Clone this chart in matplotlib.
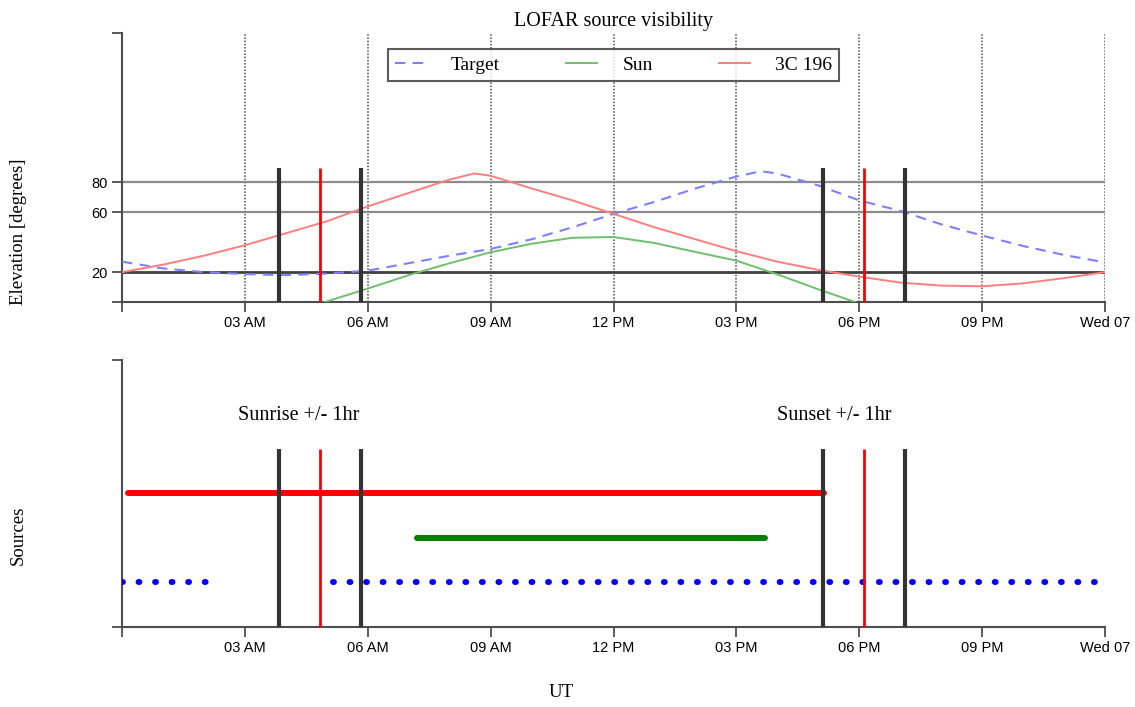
import matplotlib
matplotlib.use('Agg')
import matplotlib.pyplot as plt

# ---------------- data (hours UT from Tue 06 00:00) ----------------
tick_hours = [0, 3, 6, 9, 12, 15, 18, 21, 24]
tick_labels = ['', '03 AM', '06 AM', '09 AM', '12 PM', '03 PM', '06 PM', '09 PM', 'Wed 07']

target_t = [0, 1, 2, 3, 4, 5, 6, 7, 8, 9, 10, 11, 12, 13, 14, 15, 15.6, 16, 17, 18, 19, 20, 21, 22, 23, 24]
target_el = [27, 22.5, 20, 18.7, 18, 19, 21, 26, 31, 35.5, 42, 50, 59, 67, 76, 84, 87.5, 86, 78, 68, 61, 52, 44.5, 37.5, 31.5, 26.5]

src_t = [0, 1, 2, 3, 4, 5, 6, 7, 8, 8.6, 9, 10, 11, 12, 13, 14, 15, 16, 17, 18, 19, 20, 21, 22, 23, 24]
src_el = [20, 25, 31, 38, 46, 54, 64, 73, 82, 86, 84.5, 76, 68, 59, 50, 42, 34, 27, 21.5, 17, 13, 11, 10.5, 12.5, 16, 20]

sun_t = [4.95, 6, 7, 8, 9, 10, 11, 12, 13, 14, 15, 16, 17, 17.9]
sun_el = [0, 9, 18, 26, 33.3, 39, 43, 43.5, 39.5, 33.5, 27.7, 18.5, 8.5, 0]

sunrise = 4.83
sunset = 18.12
margin = 1.0

elev_levels = [20, 60, 80]

# visibility windows (start, end) in hours
target_vis = [(0.0, 2.15), (5.15, 24.0)]
sun_vis = [(7.2, 15.7)]
src_vis = [(0.15, 17.15)]
rows = {'Target': 1, 'Sun': 2, '3C 196': 3}

# ---------------- styling ----------------
serif = ['Liberation Serif', 'DejaVu Serif']
sans = ['Liberation Sans', 'DejaVu Sans']
spine_c = '0.3'

fig = plt.figure(figsize=(11.35, 7.07), dpi=100)
ax1 = fig.add_axes([0.1075, 0.5728, 0.8661, 0.3805])
ax2 = fig.add_axes([0.1075, 0.1132, 0.8661, 0.3776])


def style_axes(ax, ymax, yticks, ylabels):
    ax.set_xlim(0, 24)
    ax.set_ylim(0, ymax)
    for s in ['top', 'right']:
        ax.spines[s].set_visible(False)
    for s in ['left', 'bottom']:
        ax.spines[s].set_color(spine_c)
        ax.spines[s].set_linewidth(1.5)
    ax.set_xticks(tick_hours)
    ax.set_xticklabels(tick_labels, family=sans, fontsize=10.5)
    ax.set_yticks(yticks)
    ax.set_yticklabels(ylabels, family=sans, fontsize=10.5)
    ax.tick_params(axis='both', direction='out', length=7, width=1.3,
                   color=spine_c, pad=3)


# ---------------- top panel ----------------
style_axes(ax1, 180, [0] + elev_levels + [180], [''] + [str(v) for v in elev_levels] + [''])

for h in tick_hours[1:]:
    ax1.axvline(h, color='0.3', lw=1.1, ls=(0, (1, 1.1)), zorder=1)
for lev in elev_levels:
    if lev == 20:
        ax1.axhline(lev, color='0.25', lw=2.0, zorder=1)
    else:
        ax1.axhline(lev, color='0.55', lw=1.6, zorder=1)

ax1.plot(target_t, target_el, color='#7f7fff', lw=1.5, ls=(0, (5, 3.5)), label='Target', zorder=3)
ax1.plot(sun_t, sun_el, color='#6fbf6f', lw=1.4, label='Sun', zorder=3)
ax1.plot(src_t, src_el, color='#ff7f7f', lw=1.4, label='3C 196', zorder=3)

for ev in (sunrise, sunset):
    ax1.vlines([ev - margin, ev + margin], 0, 90, color='0.2', lw=3, zorder=4)
    ax1.vlines([ev], 0, 90, color='red', lw=2, zorder=4)

ax1.set_title('LOFAR source visibility', family=serif, fontsize=14.5, pad=5)
leg = ax1.legend(loc='upper center', ncol=3, prop={'family': serif, 'size': 14},
                 frameon=True, fancybox=False, edgecolor='0.2',
                 handlelength=1.6, handletextpad=1.3, columnspacing=3.4,
                 borderpad=0.35, bbox_to_anchor=(0.5, 0.975))
leg.get_frame().set_linewidth(1.5)

# ---------------- bottom panel ----------------
style_axes(ax2, 6, [0, 6], ['', ''])

for ev in (sunrise, sunset):
    ax2.vlines([ev - margin, ev + margin], 0, 4, color='0.2', lw=3, zorder=4)
    ax2.vlines([ev], 0, 4, color='red', lw=2, zorder=4)

for (a, b) in src_vis:
    ax2.plot([a, b], [rows['3C 196']] * 2, color='red', lw=4.3, solid_capstyle='round', zorder=3)
for (a, b) in sun_vis:
    ax2.plot([a, b], [rows['Sun']] * 2, color='green', lw=4.3, solid_capstyle='round', zorder=3)
for (a, b) in target_vis:
    ax2.plot([a, b], [rows['Target']] * 2, color='blue', lw=4.3, ls=(0, (0.15, 2.62)),
             dash_capstyle='round', zorder=3)

ax2.text(sunrise - margin - 1.0, 4.75, 'Sunrise +/- 1hr', family=serif, fontsize=14.5,
         ha='left', va='center')
ax2.text(sunset - margin - 1.12, 4.75, 'Sunset +/- 1hr', family=serif, fontsize=14.5,
         ha='left', va='center')

# ---------------- axis labels ----------------
fig.text(0.016, 0.672, 'Elevation [degrees]', family=serif, fontsize=13.5,
         rotation=90, ha='center', va='center')
fig.text(0.016, 0.243, 'Sources', family=serif, fontsize=13.5,
         rotation=90, ha='center', va='center')
fig.text(0.494, 0.021, 'UT', family=serif, fontsize=13.5, ha='center', va='center')

fig.savefig('out.png', dpi=100)
